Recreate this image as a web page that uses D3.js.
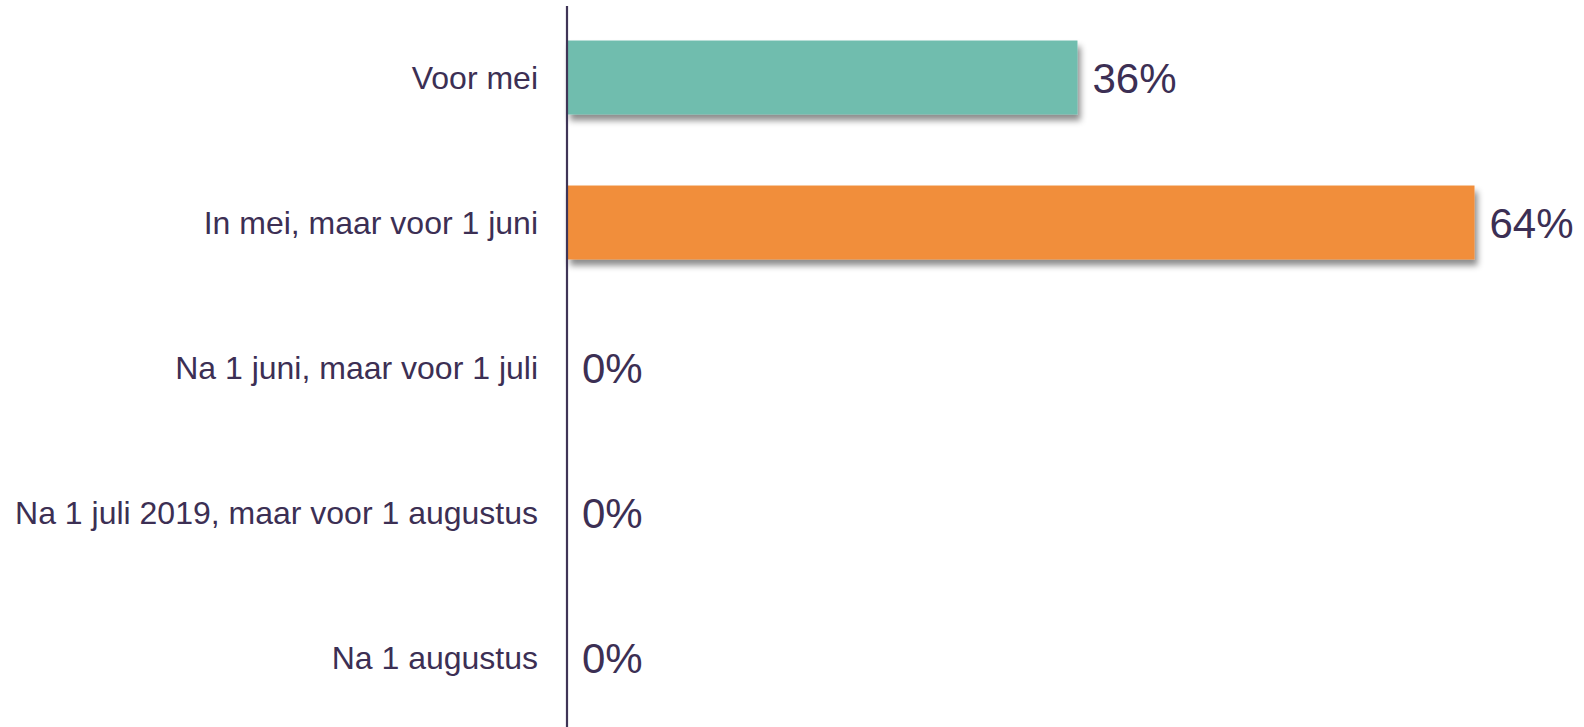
<!DOCTYPE html>
<html>
<head>
<meta charset="utf-8">
<script src="https://cdn.jsdelivr.net/npm/d3@7"></script>
<style>
  html, body { margin: 0; padding: 0; background: #ffffff; }
  svg { display: block; }
  text { font-family: "Liberation Sans", Arial, sans-serif; }
</style>
</head>
<body>
<svg id="chart" width="1584" height="727"></svg>
<script>
// Answer categories, top to bottom
const categories = [
  "Voor mei",
  "In mei, maar voor 1 juni",
  "Na 1 juni, maar voor 1 juli",
  "Na 1 juli 2019, maar voor 1 augustus",
  "Na 1 augustus"
];
// Share of respondents per category (%)
const values = [36, 64, 0, 0, 0];
// Bar fill per category
const barColors = ["#6FBDAE", "#F18E3B", "#6FBDAE", "#6FBDAE", "#6FBDAE"];

const svg = d3.select("#chart");
const W = 1584, H = 727;
const axisX = 567;
const textColor = "#3C2F54";

const x = d3.scaleLinear().domain([0, 100]).range([axisX, axisX + 1418]);
const y = d3.scaleBand().domain(categories).range([5, 730]).paddingInner(0.49).paddingOuter(0.245);

// Soft drop shadow under the bars
const defs = svg.append("defs");
const f = defs.append("filter").attr("id", "barShadow")
  .attr("x", "-5%").attr("y", "-20%").attr("width", "115%").attr("height", "160%");
f.append("feDropShadow")
  .attr("dx", 3).attr("dy", 6).attr("stdDeviation", 3)
  .attr("flood-color", "#000").attr("flood-opacity", 0.45);

const rows = categories.map((c, i) => ({ cat: c, v: values[i], color: barColors[i] }));

svg.append("g").selectAll("rect")
  .data(rows.filter(d => d.v > 0))
  .join("rect")
  .attr("x", x(0))
  .attr("y", d => y(d.cat))
  .attr("width", d => x(d.v) - x(0))
  .attr("height", y.bandwidth())
  .attr("fill", d => d.color)
  .attr("filter", "url(#barShadow)");

// Vertical category axis
const yAxis = d3.axisLeft(y).tickSize(0).tickPadding(29);
const gAxis = svg.append("g").attr("transform", `translate(${axisX},0)`).call(yAxis);
gAxis.select(".domain").remove();
gAxis.selectAll("text")
  .attr("font-size", 32)
  .attr("fill", textColor)
  .attr("font-family", "Liberation Sans, Arial, sans-serif")
  .attr("dy", "0.36em");

svg.append("line")
  .attr("x1", axisX).attr("x2", axisX)
  .attr("y1", 6).attr("y2", H)
  .attr("stroke", "#3F3557").attr("stroke-width", 2.2);

// Value labels at the end of each bar
svg.append("g").selectAll("text")
  .data(rows)
  .join("text")
  .attr("x", d => x(d.v) + 15)
  .attr("y", d => y(d.cat) + y.bandwidth() / 2)
  .attr("dy", "0.36em")
  .attr("font-size", 42)
  .attr("fill", textColor)
  .text(d => d3.format(".0f")(d.v) + "%");
</script>
</body>
</html>
